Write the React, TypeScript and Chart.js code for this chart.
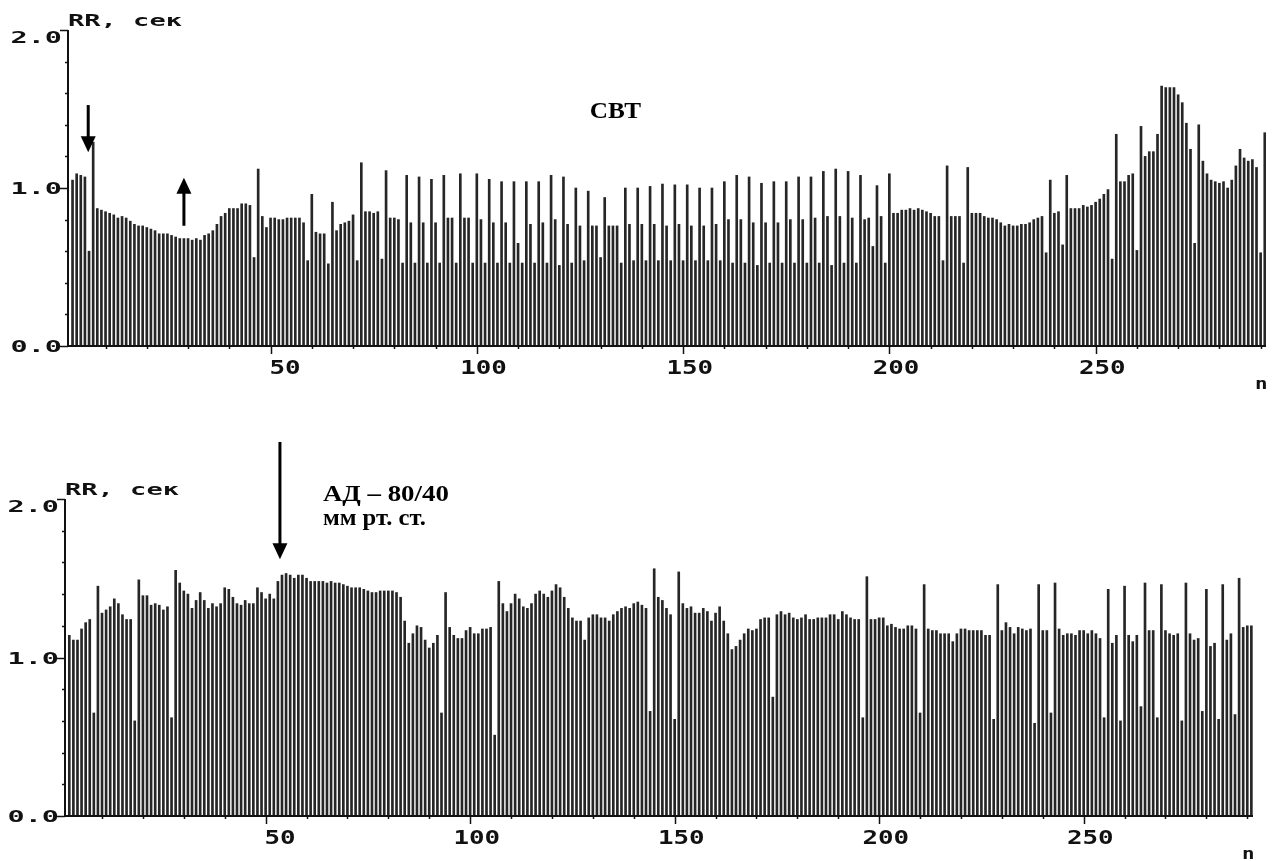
import { useEffect, useRef } from "react";
import { Chart, registerables } from "chart.js";

Chart.register(...registerables);

// First bar index (bar n=1 sits under the y axis line)
const START_N = 2;

// RR intervals, seconds — upper record (SVT episode), n = 2..291
const topRR = [
  1.05, 1.09, 1.08, 1.07, 0.60, 1.29, 0.87, 0.86, 0.85, 0.84,
  0.83, 0.81, 0.82, 0.81, 0.79, 0.77, 0.76, 0.76, 0.75, 0.74,
  0.73, 0.71, 0.71, 0.71, 0.70, 0.69, 0.68, 0.68, 0.68, 0.67,
  0.68, 0.67, 0.70, 0.71, 0.73, 0.77, 0.82, 0.84, 0.87, 0.87,
  0.87, 0.90, 0.90, 0.89, 0.56, 1.12, 0.82, 0.75, 0.81, 0.81,
  0.80, 0.80, 0.81, 0.81, 0.81, 0.81, 0.78, 0.54, 0.96, 0.72,
  0.71, 0.71, 0.52, 0.91, 0.73, 0.77, 0.78, 0.79, 0.83, 0.54,
  1.16, 0.85, 0.85, 0.84,
  0.85, 0.55, 1.11, 0.81, 0.81, 0.80, 0.525, 1.08, 0.78, 0.525,
  1.07, 0.78, 0.525, 1.055, 0.78, 0.525, 1.08, 0.81, 0.81, 0.525,
  1.09, 0.81, 0.81, 0.525, 1.09, 0.80, 0.525, 1.055, 0.78, 0.525,
  1.04, 0.78, 0.525, 1.04, 0.65, 0.525, 1.04, 0.77, 0.525, 1.04,
  0.78, 0.525, 1.08, 0.80, 0.51, 1.07, 0.77, 0.525, 1.00, 0.76,
  0.54, 0.98, 0.76, 0.76, 0.56, 0.94, 0.76, 0.76, 0.76, 0.525,
  1.00, 0.77, 0.54, 1.00, 0.77, 0.54, 1.01, 0.77, 0.54, 1.025, 0.76,
  0.54, 1.02, 0.77, 0.54, 1.02, 0.76, 0.54, 1.00, 0.76, 0.54,
  1.00, 0.77, 0.54, 1.04, 0.80, 0.525, 1.08, 0.80, 0.525, 1.07,
  0.78, 0.51, 1.03, 0.78, 0.525, 1.04, 0.78, 0.525, 1.04, 0.80,
  0.525, 1.07, 0.80, 0.525, 1.07, 0.81, 0.525, 1.105, 0.82, 0.51,
  1.12, 0.82, 0.525, 1.105, 0.81, 0.525, 1.08, 0.80, 0.81, 0.63,
  1.015, 0.82, 0.525, 1.09, 0.84, 0.84, 0.86, 0.86, 0.87, 0.86,
  0.87, 0.86, 0.85, 0.84, 0.82, 0.82, 0.54, 1.14, 0.82, 0.82,
  0.82, 0.525, 1.13, 0.84, 0.84, 0.84, 0.82, 0.81, 0.81, 0.80,
  0.78, 0.76, 0.77, 0.76, 0.76, 0.77, 0.77, 0.78, 0.80, 0.81,
  0.82, 0.59, 1.05, 0.84, 0.85, 0.64, 1.08, 0.87, 0.87, 0.87,
  0.89, 0.88, 0.89, 0.91, 0.93, 0.96, 0.99, 0.55, 1.34, 1.04,
  1.04, 1.08, 1.09, 0.605, 1.39, 1.20, 1.23, 1.23, 1.34, 1.645,
  1.635, 1.635, 1.635, 1.59, 1.54, 1.41, 1.245, 0.65, 1.40, 1.17,
  1.09, 1.05, 1.04, 1.03, 1.04, 1.00, 1.05, 1.14, 1.245, 1.19,
  1.17, 1.18, 1.13, 0.59, 1.35,
];

// RR intervals, seconds — lower record (BP 80/40), n = 2..291
const bottomRR = [
  1.14, 1.11, 1.11, 1.18, 1.22, 1.24, 0.65, 1.45, 1.28, 1.30,
  1.32, 1.37, 1.34, 1.27, 1.24, 1.24, 0.60, 1.49, 1.39, 1.39,
  1.33, 1.34, 1.33, 1.30, 1.32, 0.62, 1.55, 1.47, 1.42, 1.40,
  1.31, 1.36, 1.41, 1.36, 1.31, 1.34, 1.32, 1.34, 1.44, 1.43,
  1.38, 1.34, 1.33, 1.36, 1.34, 1.34, 1.44, 1.41, 1.37, 1.40,
  1.37, 1.48, 1.52, 1.53, 1.52, 1.50, 1.52, 1.52, 1.50, 1.48,
  1.48, 1.48, 1.48, 1.47, 1.48, 1.47, 1.47, 1.46, 1.45, 1.44,
  1.44, 1.44, 1.43, 1.42, 1.41, 1.41, 1.42, 1.42, 1.42, 1.42,
  1.41, 1.38, 1.23, 1.09, 1.15, 1.20, 1.19, 1.11, 1.06, 1.09,
  1.14, 0.65, 1.41, 1.19, 1.14, 1.12, 1.12, 1.17, 1.19, 1.15,
  1.15, 1.18, 1.18, 1.19, 0.51, 1.48, 1.34, 1.29, 1.34, 1.40,
  1.37, 1.32, 1.31, 1.34, 1.40, 1.42, 1.40, 1.38, 1.42, 1.46,
  1.44, 1.38, 1.31, 1.25, 1.23, 1.23, 1.11, 1.25, 1.27, 1.27,
  1.25, 1.25, 1.23, 1.27, 1.29, 1.31, 1.32, 1.31, 1.34, 1.35,
  1.33, 1.31, 0.66, 1.56, 1.38, 1.36, 1.31, 1.27, 0.61, 1.54,
  1.34, 1.31, 1.32, 1.28, 1.28, 1.31, 1.29, 1.23, 1.28, 1.32,
  1.23, 1.15, 1.05, 1.07, 1.11, 1.15, 1.18, 1.17, 1.18, 1.24,
  1.25, 1.25, 0.75, 1.27, 1.29, 1.27, 1.28, 1.25, 1.24, 1.25,
  1.27, 1.24, 1.24, 1.25, 1.25, 1.25, 1.27, 1.27, 1.24, 1.29,
  1.27, 1.25, 1.24, 1.24, 0.62, 1.51, 1.24, 1.24, 1.25, 1.25,
  1.20, 1.21, 1.19, 1.18, 1.18, 1.20, 1.20, 1.18, 0.65, 1.46,
  1.18, 1.17, 1.17, 1.15, 1.15, 1.15, 1.10, 1.15, 1.18, 1.18,
  1.17, 1.17, 1.17, 1.17, 1.14, 1.14, 0.61, 1.46, 1.17, 1.22,
  1.19, 1.15, 1.19, 1.18, 1.17, 1.18, 0.585, 1.46, 1.17, 1.17,
  0.65, 1.47, 1.18, 1.14, 1.15, 1.15, 1.14, 1.17, 1.17, 1.15,
  1.17, 1.15, 1.12, 0.62, 1.43, 1.09, 1.14, 0.60, 1.45, 1.14,
  1.10, 1.14, 0.69, 1.47, 1.17, 1.17, 0.62, 1.46, 1.17, 1.15,
  1.14, 1.15, 0.60, 1.47, 1.15, 1.11, 1.12, 0.66, 1.43, 1.07,
  1.09, 0.61, 1.46, 1.11, 1.15, 0.64, 1.50, 1.19, 1.20, 1.20,
];

const xTickLabels = [50, 100, 150, 200, 250];
const yTickValues = [0, 1, 2];
const xMinorStep = 10;
const yMinorStep = 0.2;
const yAxisTitle = "RR, сек";
const xAxisTitle = "n";

const MONO = '"DejaVu Sans Mono", monospace';
const SERIF = '"Liberation Serif", "Times New Roman", serif';

type Arrow = { n: number; from: number; to: number };
type Note = { n: number; v: number; text: string; font: string; align: CanvasTextAlign; sx: number };

function stretched(
  ctx: CanvasRenderingContext2D,
  text: string,
  x: number,
  y: number,
  font: string,
  sx: number,
  align: CanvasTextAlign,
  color = "#111"
) {
  ctx.save();
  ctx.font = font;
  ctx.textAlign = align;
  ctx.textBaseline = "alphabetic";
  ctx.fillStyle = color;
  ctx.translate(x, y);
  ctx.scale(sx, 1);
  ctx.fillText(text, 0, 0);
  ctx.restore();
}

function drawArrow(ctx: CanvasRenderingContext2D, x: number, yFrom: number, yTo: number) {
  const dir = Math.sign(yTo - yFrom);
  const headLen = 16;
  const headW = 7.5;
  ctx.save();
  ctx.strokeStyle = "#000";
  ctx.fillStyle = "#000";
  ctx.lineWidth = 3;
  ctx.beginPath();
  ctx.moveTo(x, yFrom);
  ctx.lineTo(x, yTo - dir * (headLen - 2));
  ctx.stroke();
  ctx.beginPath();
  ctx.moveTo(x, yTo);
  ctx.lineTo(x - headW, yTo - dir * headLen);
  ctx.lineTo(x + headW, yTo - dir * headLen);
  ctx.closePath();
  ctx.fill();
  ctx.restore();
}

const rrAxesPlugin = {
  id: "rrAxes",
  afterDraw(chart: any, _args: any, opts: any) {
    const { ctx, chartArea: ca } = chart;
    const xs = chart.scales.x;
    const ys = chart.scales.y;
    const y0 = ys.getPixelForValue(0);
    const yTop = ys.getPixelForValue(ys.max);
    ctx.save();
    ctx.strokeStyle = "#111";
    ctx.lineWidth = 2;
    ctx.beginPath();
    ctx.moveTo(ca.left, yTop);
    ctx.lineTo(ca.left, y0);
    ctx.lineTo(ca.right, y0);
    ctx.stroke();

    // y ticks
    ctx.lineWidth = 1.5;
    const ySteps = Math.round(ys.max / yMinorStep);
    for (let k = 0; k <= ySteps; k++) {
      const v = k * yMinorStep;
      const py = Math.round(ys.getPixelForValue(v)) + 0.5;
      const major = yTickValues.some((t) => Math.abs(t - v) < 1e-6);
      ctx.beginPath();
      ctx.moveTo(ca.left - (major ? 8 : 3), py);
      ctx.lineTo(ca.left, py);
      ctx.stroke();
    }
    // x ticks
    for (let n = xMinorStep; n <= xs.max; n += xMinorStep) {
      const px = Math.round(xs.getPixelForValue(n)) + 0.5;
      const major = xTickLabels.includes(n);
      ctx.beginPath();
      ctx.moveTo(px, y0);
      ctx.lineTo(px, y0 + (major ? 8 : 3));
      ctx.stroke();
    }
    ctx.restore();

    // y tick labels
    yTickValues.forEach((v) => {
      const py = ys.getPixelForValue(v);
      const off = v === ys.max ? 13 : 6;
      stretched(ctx, v.toFixed(1), ca.left - 6, py + off, `bold 16px ${MONO}`, 1.78, "right");
    });
    // x tick labels (right edge two character cells past the tick)
    xTickLabels.forEach((n) => {
      const px = xs.getPixelForValue(n);
      stretched(ctx, String(n), px + 30, y0 + 28, `bold 19px ${MONO}`, 1.36, "right");
    });
    // axis titles
    stretched(ctx, yAxisTitle, ca.left, yTop - 4, `bold 16px ${MONO}`, 1.69, "left");
    stretched(ctx, xAxisTitle, ca.right - 11, y0 + 43, `bold 16px ${MONO}`, 1.3, "left");

    // annotations
    (opts.arrows || []).forEach((a: Arrow) => {
      drawArrow(ctx, xs.getPixelForValue(a.n), ys.getPixelForValue(a.from), ys.getPixelForValue(a.to));
    });
    (opts.notes || []).forEach((t: Note) => {
      stretched(ctx, t.text, xs.getPixelForValue(t.n), ys.getPixelForValue(t.v), t.font, t.sx, t.align, "#000");
    });
  },
};

type PanelProps = {
  values: number[];
  height: number;
  padding: { left: number; right: number; top: number; bottom: number };
  xMin: number;
  xMax: number;
  arrows: Arrow[];
  notes: Note[];
};

function Panel({ values, height, padding, xMin, xMax, arrows, notes }: PanelProps) {
  const ref = useRef<HTMLCanvasElement | null>(null);
  useEffect(() => {
    if (!ref.current) return;
    const points = values.map((v, i) => ({ x: START_N + i, y: v }));
    const chart = new Chart(ref.current, {
      type: "bar",
      data: {
        datasets: [
          {
            data: points as any,
            backgroundColor: "#262626",
            borderWidth: 0,
            barThickness: 2,
          },
        ],
      },
      options: {
        animation: false,
        responsive: false,
        devicePixelRatio: 1,
        layout: { padding },
        plugins: {
          legend: { display: false },
          tooltip: { enabled: false },
          rrAxes: { arrows, notes },
        } as any,
        scales: {
          x: {
            type: "linear",
            min: xMin,
            max: xMax,
            offset: false,
            grid: { offset: false },
            display: false,
          },
          y: { min: 0, max: 2, display: false },
        },
      },
      plugins: [rrAxesPlugin as any],
    });
    return () => chart.destroy();
  }, []);
  return <canvas ref={ref} width={1272} height={height} style={{ display: "block" }} />;
}

export default function App() {
  return (
    <div
      style={{
        position: "absolute",
        left: 0,
        top: 0,
        width: 1272,
        height: 861,
        background: "#fff",
      }}
    >
      <Panel
        values={topRR}
        height={430}
        padding={{ left: 68, right: 6, top: 30, bottom: 84 }}
        xMin={0.9}
        xMax={291.3}
        arrows={[
          { n: 5.8, from: 1.525, to: 1.226 },
          { n: 29, from: 0.761, to: 1.065 },
        ]}
        notes={[{ n: 133.6, v: 1.445, text: "СВТ", font: `bold 24px ${SERIF}`, align: "center", sx: 1.05 }]}
      />
      <Panel
        values={bottomRR}
        height={431}
        padding={{ left: 65, right: 19, top: 69, bottom: 45 }}
        xMin={0.95}
        xMax={291.4}
        arrows={[{ n: 53.5, from: 2.36, to: 1.62 }]}
        notes={[
          { n: 64, v: 1.99, text: "АД – 80/40", font: `bold 24px ${SERIF}`, align: "left", sx: 1.12 },
          { n: 64, v: 1.836, text: "мм рт. ст.", font: `bold 23px ${SERIF}`, align: "left", sx: 1.07 },
        ]}
      />
    </div>
  );
}
